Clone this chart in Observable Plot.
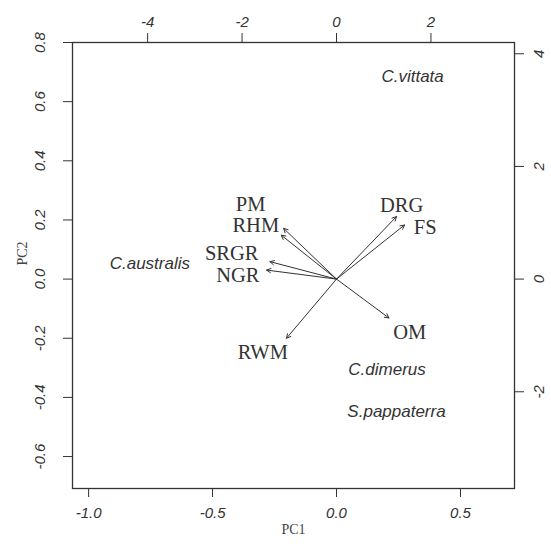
<!DOCTYPE html>
<html><head><meta charset="utf-8">
<script src="https://cdn.jsdelivr.net/npm/d3@7"></script>
<script src="https://cdn.jsdelivr.net/npm/@observablehq/plot@0.6"></script>
<style>body{margin:0;background:#fff} svg{display:block}</style>
</head><body><div id="chart"></div>
<script>
// Variable loadings (top/right axes units)
const variables = ["PM","RHM","SRGR","NGR","DRG","FS","OM","RWM"];
const loadPC1 = [-1.12,-1.17,-1.41,-1.48,1.27,1.44,1.11,-1.06];
const loadPC2 = [0.90,0.78,0.31,0.16,1.11,0.96,-0.69,-1.05];
// Variable label positions (top/right axes units)
const labelPC1 = [-1.82,-1.71,-2.22,-2.09,1.38,1.88,1.55,-1.56];
const labelPC2 = [1.33,0.96,0.45,0.07,1.30,0.91,-0.95,-1.31];
// Species scores (bottom/left axes units)
const species = ["C.vittata","C.australis","C.dimerus","S.pappaterra"];
const scorePC1 = [0.307,-0.753,0.204,0.242];
const scorePC2 = [0.685,0.052,-0.306,-0.447];
// Tick values
const pc1Ticks = [-1.0,-0.5,0.0,0.5];
const pc2Ticks = [-0.6,-0.4,-0.2,0.0,0.2,0.4,0.6,0.8];
const loadXTicks = [-4,-2,0,2];
const loadYTicks = [-2,0,2,4];
const ratio = 5.25;

const vi = variables.map((_, i) => i);
const si = species.map((_, i) => i);
const ink = "#333";
const tickFont = {fontFamily: "Liberation Sans, Arial, sans-serif", fontSize: 15, fontStyle: "italic"};

const chart = Plot.plot({
  width: 551,
  height: 544,
  marginLeft: 72,
  marginRight: 37,
  marginTop: 42,
  marginBottom: 56,
  style: {background: "#fff", color: ink},
  x: {domain: [-1.065, 0.718]},
  y: {domain: [-0.708, 0.800]},
  marks: [
    Plot.frame({stroke: ink, strokeWidth: 1.3}),
    Plot.axisX(pc1Ticks, {anchor: "bottom", tickSize: 9, tickPadding: 10, tickFormat: d => d.toFixed(1), color: ink, label: null, ...tickFont}),
    Plot.axisY(pc2Ticks, {anchor: "left", tickSize: 9, tickPadding: 19, tickRotate: -90, tickFormat: d => d.toFixed(1), color: ink, label: null, ...tickFont}),
    Plot.axisX(loadXTicks.map(v => v / ratio), {anchor: "top", tickSize: 10, tickPadding: 6, tickFormat: d => String(Math.round(d * ratio)), color: ink, label: null, ...tickFont}),
    Plot.axisY(loadYTicks.map(v => v / ratio), {anchor: "right", tickSize: 9, tickPadding: 10, tickRotate: -90, lineAnchor: "top", textAnchor: "middle", tickFormat: d => String(Math.round(d * ratio)), color: ink, label: null, ...tickFont}),
    Plot.text(["PC1"], {frameAnchor: "bottom", dy: 45, fontFamily: "Liberation Serif, Times New Roman, serif", fontSize: 14, fill: "#444"}),
    Plot.text(["PC2"], {frameAnchor: "left", dx: -50, rotate: -90, fontFamily: "Liberation Serif, Times New Roman, serif", fontSize: 14, fill: "#444"}),
    Plot.arrow(vi, {
      x1: () => 0, y1: () => 0,
      x2: i => loadPC1[i] / ratio, y2: i => loadPC2[i] / ratio,
      stroke: ink, strokeWidth: 1, headLength: 7, headAngle: 55
    }),
    Plot.text(vi, {
      x: i => labelPC1[i] / ratio, y: i => labelPC2[i] / ratio,
      text: i => variables[i],
      fontFamily: "Liberation Serif, Times New Roman, serif", fontSize: 20.5, fill: ink
    }),
    Plot.text(si, {
      x: i => scorePC1[i], y: i => scorePC2[i],
      text: i => species[i],
      fontFamily: "Liberation Sans, Arial, sans-serif", fontSize: 17, fontStyle: "italic", fill: ink
    })
  ]
});
document.getElementById("chart").appendChild(chart);
</script>
</body></html>
